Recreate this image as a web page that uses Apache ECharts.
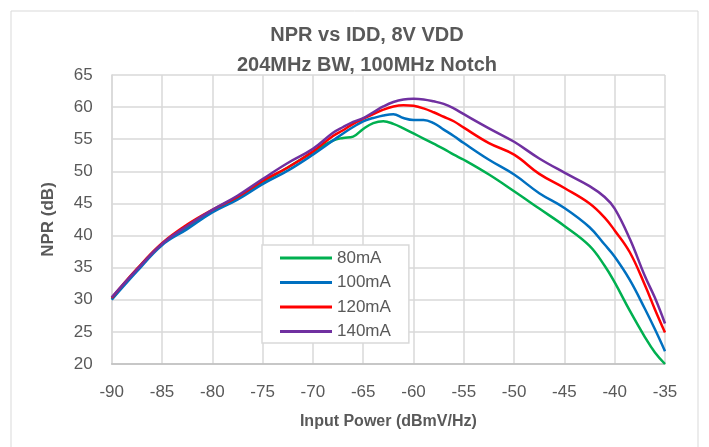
<!DOCTYPE html>
<html lang="en">
<head>
<meta charset="UTF-8">
<title>NPR vs IDD</title>
<script src="https://cdn.jsdelivr.net/npm/echarts@6/dist/echarts.min.js"></script>
<style>
    html, body { margin: 0; padding: 0; background: #fff; }
    #chart { width: 709px; height: 447px; }
</style>
</head>
<body>
<div id="chart"></div>
<script type="text/javascript">
    // input power points (dBmV/Hz)
    var inputPower = [-90, -87.5, -85, -82.5, -80, -77.5, -75, -72.5, -70, -68, -67, -66, -65, -64, -63, -62, -61,
        -60, -59, -58, -57, -56, -55, -52.5, -50, -47.5, -45, -42.5, -41, -40, -38.5, -37, -36, -35];

    // NPR (dB) per supply current
    var npr80 = [30.1, 34.7, 38.7, 41.3, 43.8, 45.8, 48.3, 50.6, 53.0, 54.8, 55.2, 55.4, 56.6, 57.5, 57.8, 57.4, 56.7,
        55.9, 55.1, 54.3, 53.5, 52.6, 51.8, 49.5, 46.9, 44.2, 41.5, 38.4, 35.3, 32.7, 28.3, 24.2, 21.8, 20.0];
    var npr100 = [30.0, 34.4, 38.5, 41.0, 43.6, 45.6, 48.0, 50.1, 52.6, 54.8, 55.9, 56.9, 57.8, 58.3, 58.7, 58.9, 58.3,
        58.0, 58.0, 57.5, 56.5, 55.5, 54.4, 51.8, 49.5, 46.6, 44.3, 41.3, 38.6, 36.7, 33.1, 28.6, 25.4, 22.0];
    var npr120 = [30.3, 34.8, 38.8, 41.7, 44.0, 46.0, 48.5, 50.6, 53.1, 55.5, 56.4, 57.4, 58.2, 58.9, 59.6, 60.1, 60.3,
        60.2, 59.8, 59.2, 58.5, 57.8, 56.8, 54.4, 52.6, 49.6, 47.4, 45.0, 42.8, 40.8, 37.4, 32.3, 28.5, 24.9];
    var npr140 = [30.4, 34.7, 38.7, 41.5, 44.0, 46.2, 48.8, 51.3, 53.5, 56.0, 56.9, 57.7, 58.3, 59.2, 60.1, 60.8, 61.2,
        61.3, 61.2, 60.9, 60.5, 59.8, 58.9, 56.7, 54.6, 52.0, 49.8, 47.7, 46.0, 44.2, 39.5, 33.7, 30.3, 26.3];

    var seriesNames = ['80mA', '100mA', '120mA', '140mA'];
    var seriesColors = ['#00B050', '#0070C0', '#FF0000', '#7030A0'];
    var seriesValues = [npr80, npr100, npr120, npr140];

    function pairs(ys) {
        var out = [];
        for (var i = 0; i < inputPower.length; i++) {
            out.push([inputPower[i], ys[i]]);
        }
        return out;
    }

    var series = [];
    for (var s = 0; s < seriesNames.length; s++) {
        series.push({
            name: seriesNames[s],
            type: 'line',
            smooth: 0.4,
            symbol: 'none',
            lineStyle: { width: 2.5, color: seriesColors[s] },
            itemStyle: { color: seriesColors[s] },
            data: pairs(seriesValues[s])
        });
    }

    var font = 'Liberation Sans, Arial, sans-serif';
    var textColor = '#595959';

    var myChart = echarts.init(document.getElementById('chart'));
    var option = {
        animation: false,
        backgroundColor: '#fff',
        textStyle: { fontFamily: font },
        graphic: [{
            type: 'rect',
            shape: { x: 11, y: 11, width: 687, height: 450 },
            style: { fill: 'none', stroke: '#d9d9d9', lineWidth: 1 },
            silent: true
        }],
        title: {
            text: 'NPR vs IDD, 8V VDD\n204MHz BW, 100MHz Notch',
            left: 362,
            textAlign: 'center',
            top: 15,
            textStyle: {
                fontFamily: font,
                fontSize: 20,
                fontWeight: 'bold',
                color: textColor,
                lineHeight: 30
            }
        },
        legend: {
            orient: 'vertical',
            left: 262,
            top: 245,
            padding: [4.5, 18, 3, 18],
            itemWidth: 52,
            itemHeight: 3,
            itemGap: 7.5,
            icon: 'rect',
            backgroundColor: '#fff',
            borderColor: '#d9d9d9',
            borderWidth: 1.5,
            borderRadius: 0,
            textStyle: { fontFamily: font, fontSize: 17, color: textColor },
            data: seriesNames
        },
        grid: {
            left: 111.7,
            right: 44,
            top: 75,
            bottom: 83,
            containLabel: false
        },
        xAxis: {
            type: 'value',
            min: -90,
            max: -35,
            interval: 5,
            name: 'Input Power (dBmV/Hz)',
            nameLocation: 'middle',
            nameGap: 50,
            nameTextStyle: { fontFamily: font, fontSize: 16, fontWeight: 'bold', color: textColor },
            axisLine: { show: true, lineStyle: { color: '#bfbfbf', width: 1.5 } },
            axisTick: { show: false },
            axisLabel: { fontFamily: font, fontSize: 17, color: textColor, margin: 20 },
            splitLine: { show: true, lineStyle: { color: '#d9d9d9', width: 1.5 } }
        },
        yAxis: {
            type: 'value',
            min: 20,
            max: 65,
            interval: 5,
            name: 'NPR (dB)',
            nameLocation: 'middle',
            nameGap: 55,
            nameTextStyle: { fontFamily: font, fontSize: 17, fontWeight: 'bold', color: textColor },
            axisLine: { show: true, lineStyle: { color: '#d9d9d9', width: 1.5 } },
            axisTick: { show: false },
            axisLabel: { fontFamily: font, fontSize: 17, color: textColor, margin: 19 },
            splitLine: { show: true, lineStyle: { color: '#d9d9d9', width: 1.5 } }
        },
        series: series
    };
    myChart.setOption(option);
</script>
</body>
</html>
